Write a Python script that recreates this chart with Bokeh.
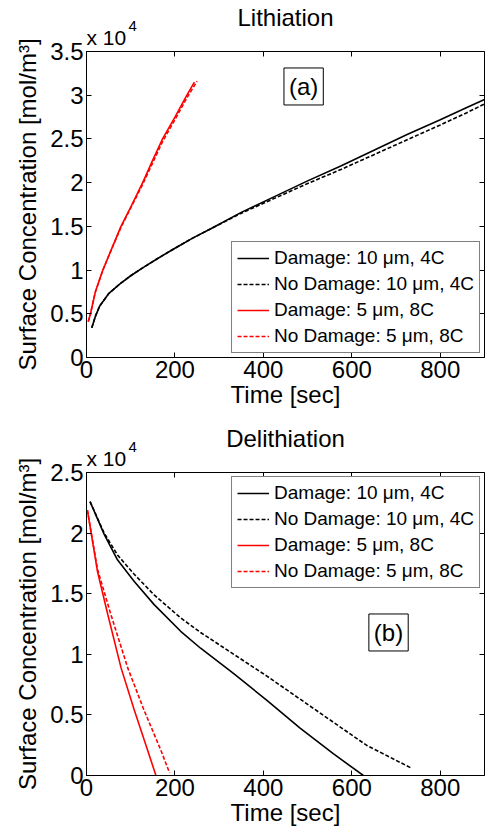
from bokeh.plotting import figure
from bokeh.layouts import column
from bokeh.models import (Range1d, FixedTicker, CustomJSTickFormatter, Label, LinearAxis, Title)
from bokeh.embed import file_html
from bokeh.resources import INLINE

# ---------------- data ----------------
# (a) Lithiation
lith_t_10 = [12, 20, 30, 50, 75, 100, 127, 160, 200, 240, 280, 350, 425, 500, 575, 650, 725, 800, 860, 900]
lith_dmg_10 = [3400, 4700, 5900, 7300, 8400, 9350, 10250, 11300, 12500, 13650, 14700, 16600,
               18400, 20200, 21900, 23700, 25500, 27200, 28600, 29500]
lith_nodmg_10 = [3400, 4700, 5900, 7300, 8400, 9350, 10250, 11300, 12500, 13650, 14700, 16500,
                 18200, 19900, 21500, 23200, 24900, 26600, 28000, 29000]
lith_t_5 = [4, 9, 20, 37, 55, 78, 100, 127, 150, 172, 200, 227, 244]
lith_dmg_5 = [4100, 5000, 7500, 10000, 12200, 15000, 17200, 20000, 22600, 25000, 27500, 30000, 31500]
lith_t_5n = [4, 9, 20, 37, 55, 78, 100, 127, 150, 172, 200, 227, 250]
lith_nodmg_5 = [4100, 5000, 7500, 10000, 12200, 14900, 17100, 19800, 22300, 24700, 27200, 29700, 31600]

# (b) Delithiation
del_t_10d = [8, 40, 70, 108, 153, 213, 258, 333, 408, 483, 558, 626]
del_dmg_10 = [22600, 19900, 17800, 16000, 14100, 11900, 10500, 8400, 6200, 3900, 1800, 0]
del_t_10n = [8, 40, 70, 108, 153, 213, 258, 333, 408, 483, 558, 633, 735]
del_nodmg_10 = [22600, 20000, 18200, 16600, 14900, 13000, 11800, 10000, 8200, 6300, 4400, 2500, 600]
del_t_5d = [2, 25, 48, 78, 108, 138, 157]
del_dmg_5 = [21900, 16800, 13300, 8900, 5400, 2100, 0]
del_t_5n = [2, 25, 55, 93, 130, 168, 188]
del_nodmg_5 = [21900, 17000, 13300, 8900, 5400, 2100, 200]

x_ticks = [0, 200, 400, 600, 800]
y_ticks_a = [0, 5000, 10000, 15000, 20000, 25000, 30000, 35000]
y_ticks_b = [0, 5000, 10000, 15000, 20000, 25000]

legend_labels = ["Damage: 10 \u03bcm, 4C", "No Damage: 10 \u03bcm, 4C",
                 "Damage: 5 \u03bcm, 8C", "No Damage: 5 \u03bcm, 8C"]

FONT = "Liberation Sans"
fmt = CustomJSTickFormatter(code="return (tick/10000).toString();")


def make_fig(height, title, ytop, yticks, border_top, border_bottom, border_left, series,
             legend_loc, panel_text, panel_xy):
    p = figure(width=487, height=height, output_backend="svg", toolbar_location=None,
               x_range=Range1d(0, 900), y_range=Range1d(0, ytop),
               min_border_top=border_top, min_border_bottom=border_bottom,
               min_border_left=border_left, min_border_right=3)
    p.xgrid.visible = False
    p.ygrid.visible = False
    p.outline_line_color = "black"
    p.outline_line_width = 1
    p.background_fill_color = "white"
    p.border_fill_color = "white"

    for ax in (p.xaxis[0], p.yaxis[0]):
        ax.major_label_text_font = FONT
        ax.major_label_text_font_size = "24px"
        ax.major_label_text_color = "black"
        ax.axis_label_text_font = FONT
        ax.axis_label_text_font_size = "24px"
        ax.axis_label_text_font_style = "normal"
        ax.axis_label_text_color = "black"
        ax.major_tick_in = 5
        ax.major_tick_out = 0
        ax.minor_tick_line_color = None
        ax.axis_line_color = "black"
        ax.major_label_standoff = 3
        ax.axis_label_standoff = 0
    p.yaxis[0].axis_label_standoff = 6
    p.xaxis[0].ticker = FixedTicker(ticks=x_ticks)
    p.yaxis[0].ticker = FixedTicker(ticks=yticks)
    p.yaxis[0].formatter = fmt
    p.xaxis[0].axis_label = "Time [sec]"
    p.yaxis[0].axis_label = "Surface Concentration [mol/m\u00b3]"

    # tick marks on the top and right frame sides (MATLAB box style)
    for loc, tk in (("above", x_ticks), ("right", yticks)):
        ax = LinearAxis(ticker=FixedTicker(ticks=tk), major_label_text_font_size="0px",
                        major_label_standoff=0, major_tick_in=5, major_tick_out=0,
                        minor_tick_line_color=None, axis_line_color=None)
        p.add_layout(ax, loc)

    # multiplier "x 10^4" above the top-left corner of the frame, then the title
    p.add_layout(Title(text="x 10", align="left", offset=0, standoff=6, text_font=FONT,
                       text_font_size="21px", text_font_style="normal",
                       text_color="black"), "above")
    p.add_layout(Title(text="4", align="left", offset=42, standoff=-21, text_font=FONT,
                       text_font_size="15px", text_font_style="normal",
                       text_color="black"), "above")
    p.add_layout(Title(text=title, align="center", standoff=-20, text_font=FONT,
                       text_font_size="24px", text_font_style="normal",
                       text_color="black"), "above")

    styles = [("black", "solid"), ("black", "4 2"), ("red", "solid"), ("red", "4 2")]
    for (t, c), (col, dash), lab in zip(series, styles, legend_labels):
        p.line(t, c, line_color=col, line_dash=dash, line_width=1.6, legend_label=lab)

    lg = p.legend[0]
    lg.location = legend_loc
    lg.margin = 4
    lg.border_line_color = "black"
    lg.border_line_width = 1
    lg.background_fill_alpha = 1
    lg.label_text_font = FONT
    lg.label_text_font_size = "19px"
    lg.label_text_color = "black"
    lg.glyph_width = 32
    lg.glyph_height = 22
    lg.label_height = 22
    lg.label_standoff = 5
    lg.spacing = 4
    lg.padding = 5

    p.add_layout(Label(x=panel_xy[0], y=panel_xy[1], text=panel_text, text_align="center",
                       text_baseline="middle", text_font=FONT, text_font_size="24px",
                       text_color="black",
                       border_line_color="black", background_fill_color="white", padding=5))
    return p


p1 = make_fig(412, "Lithiation", 35000, y_ticks_a, 51, 55, 83,
              [(lith_t_10, lith_dmg_10), (lith_t_10, lith_nodmg_10),
               (lith_t_5, lith_dmg_5), (lith_t_5n, lith_nodmg_5)],
              "bottom_right", "(a)", (491, 31000))
p2 = make_fig(416, "Delithiation", 25000, y_ticks_b, 60, 52, 86,
              [(del_t_10d, del_dmg_10), (del_t_10n, del_nodmg_10),
               (del_t_5d, del_dmg_5), (del_t_5n, del_nodmg_5)],
              "top_right", "(b)", (683, 11800))

layout = column(p1, p2, spacing=0)
open("out.html", "w").write(file_html(layout, INLINE))
